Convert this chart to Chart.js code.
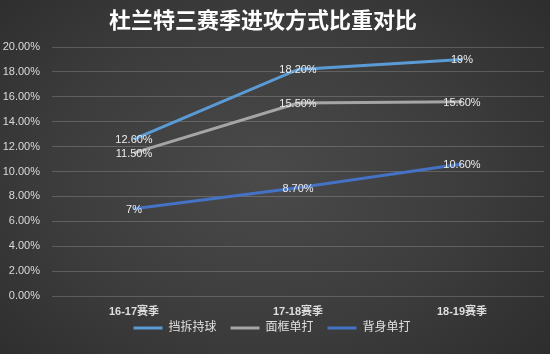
<!DOCTYPE html>
<html>
<head>
<meta charset="utf-8">
<script src="https://cdn.jsdelivr.net/npm/chart.js@4/dist/chart.umd.min.js"></script>
<style>
  html, body { margin: 0; padding: 0; }
  body {
    width: 550px; height: 354px; overflow: hidden;
    background: radial-gradient(ellipse 70% 80% at 48% 50%, #4a4a4a 0%, #3c3c3c 55%, #2c2c2c 100%);
  }
  canvas { display: block; }
</style>
</head>
<body>
<canvas id="chart" width="550" height="354"></canvas>
<script>
"use strict";

var chartTitle = "杜兰特三赛季进攻方式比重对比";
var seasons = ["16-17赛季", "17-18赛季", "18-19赛季"];
var pickRoll = [12.6, 18.2, 19];
var faceUp = [11.5, 15.5, 15.6];
var postUp = [7, 8.7, 10.6];
var pickRollText = ["12.60%", "18.20%", "19%"];
var faceUpText = ["11.50%", "15.50%", "15.60%"];
var postUpText = ["7%", "8.70%", "10.60%"];

var font = "'Liberation Sans', 'Noto Sans CJK SC', sans-serif";

// title drawn by hand so it can sit a little left of centre like the original
var titlePlugin = {
    id: "titlePlugin",
    afterDraw: function(chart) {
        var ctx = chart.ctx;
        ctx.save();
        ctx.font = "bold 22px 'Noto Sans CJK SC', sans-serif";
        ctx.fillStyle = "#ffffff";
        ctx.textAlign = "center";
        ctx.textBaseline = "middle";
        ctx.fillText(chartTitle, 263, 20);
        ctx.restore();
    }
};

// value labels centred on each point
var valueLabels = {
    id: "valueLabels",
    afterDatasetsDraw: function(chart) {
        var ctx = chart.ctx;
        ctx.save();
        ctx.font = "11px " + font;
        ctx.fillStyle = "#ececec";
        ctx.textAlign = "center";
        ctx.textBaseline = "middle";
        chart.data.datasets.forEach(function(ds, i) {
            var meta = chart.getDatasetMeta(i);
            meta.data.forEach(function(pt, j) {
                ctx.fillText(ds.labelText[j], pt.x, pt.y + 1);
            });
        });
        ctx.restore();
    }
};

new Chart(document.getElementById("chart"), {
    type: "line",
    data: {
        labels: seasons,
        datasets: [{
            label: "挡拆持球",
            data: pickRoll,
            labelText: pickRollText,
            borderColor: "#5b9bd5",
            backgroundColor: "#5b9bd5",
            borderWidth: 3
        }, {
            label: "面框单打",
            data: faceUp,
            labelText: faceUpText,
            borderColor: "#a5a5a5",
            backgroundColor: "#a5a5a5",
            borderWidth: 3
        }, {
            label: "背身单打",
            data: postUp,
            labelText: postUpText,
            borderColor: "#4472c4",
            backgroundColor: "#4472c4",
            borderWidth: 3
        }]
    },
    options: {
        responsive: false,
        animation: false,
        elements: {
            line: { tension: 0 },
            point: { radius: 0, hoverRadius: 0 }
        },
        layout: { padding: { left: 0, right: 6, top: 47, bottom: 10 } },
        scales: {
            x: {
                offset: true,
                afterFit: function(scale) { scale.height = 24; },
                grid: { display: false, drawTicks: false },
                border: { display: false },
                ticks: {
                    color: "#dedede",
                    font: { size: 11, weight: "bold", family: font },
                    padding: 9
                }
            },
            y: {
                min: 0,
                max: 20,
                afterFit: function(scale) { scale.width = 52; },
                grid: { color: "rgba(255,255,255,0.18)", drawTicks: false },
                border: { display: false },
                ticks: {
                    stepSize: 2,
                    color: "#d9d9d9",
                    font: { size: 11, family: font },
                    padding: 12,
                    callback: function(v) { return v.toFixed(2) + "%"; }
                }
            }
        },
        plugins: {
            title: { display: false },
            legend: {
                position: "bottom",
                labels: {
                    color: "#e0e0e0",
                    font: { size: 12, family: font },
                    usePointStyle: true,
                    pointStyle: "line",
                    pointStyleWidth: 29,
                    padding: 2,
                    // small padding keeps the legend close to the axis; em spaces widen the gaps
                    generateLabels: function(chart) {
                        var items = Chart.defaults.plugins.legend.labels.generateLabels(chart);
                        items.forEach(function(it, k) {
                            if (k < items.length - 1) it.text = it.text + "\u2003";
                        });
                        return items;
                    }
                }
            },
            tooltip: { enabled: false }
        }
    },
    plugins: [valueLabels, titlePlugin]
});
</script>
</body>
</html>
